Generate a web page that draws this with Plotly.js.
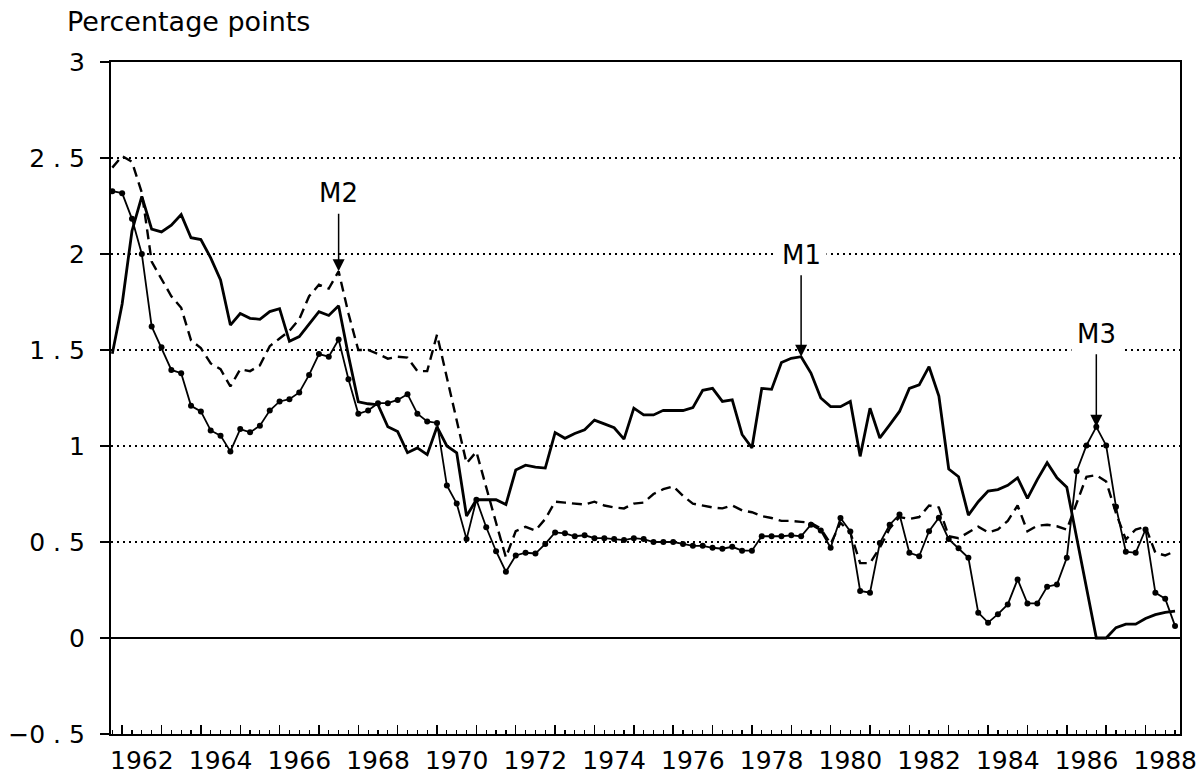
<!DOCTYPE html>
<html>
<head>
<meta charset="utf-8">
<script src="https://cdn.plot.ly/plotly-3.0.1.min.js"></script>
<style>
  html, body { margin: 0; padding: 0; background: #fff; }
  #chart { width: 1198px; height: 777px; }
</style>
</head>
<body>
<div id="chart"></div>
<script>
// Quarterly observations, 1961 Q4 to 1988 Q4 (plotted at the start of each quarter)
const firstQuarter = 1961.75;

const m1 = [1.48, 1.74, 2.12, 2.30, 2.13, 2.115, 2.15, 2.205, 2.085, 2.075,
  1.98, 1.865, 1.63, 1.69, 1.665, 1.66, 1.70, 1.715, 1.545, 1.57,
  1.635, 1.70, 1.68, 1.73, 1.47, 1.23, 1.22, 1.215, 1.10, 1.075,
  0.965, 0.99, 0.955, 1.10, 1.00, 0.965, 0.635, 0.72, 0.72, 0.72,
  0.695, 0.875, 0.90, 0.89, 0.885, 1.07, 1.04, 1.065, 1.085, 1.135,
  1.115, 1.095, 1.036, 1.197, 1.162, 1.162, 1.186, 1.185, 1.185, 1.20,
  1.29, 1.30, 1.232, 1.24, 1.06, 0.99, 1.30, 1.295, 1.435, 1.457,
  1.465, 1.38, 1.25, 1.205, 1.205, 1.232, 0.946, 1.197, 1.042, 1.11,
  1.18, 1.30, 1.318, 1.413, 1.26, 0.88, 0.84, 0.64, 0.71, 0.765,
  0.773, 0.795, 0.834, 0.727, 0.825, 0.913, 0.834, 0.785, 0.52, 0.26,
  0.0, 0.0, 0.054, 0.072, 0.072, 0.102, 0.122, 0.134, 0.14];

const m2 = [2.45, 2.51, 2.48, 2.32, 1.96, 1.87, 1.78, 1.72, 1.55, 1.51,
  1.43, 1.40, 1.31, 1.40, 1.39, 1.42, 1.52, 1.56, 1.60, 1.66,
  1.78, 1.84, 1.82, 1.91, 1.69, 1.50, 1.50, 1.48, 1.455, 1.465,
  1.46, 1.39, 1.39, 1.58, 1.36, 1.13, 0.91, 0.97, 0.78, 0.60,
  0.42, 0.557, 0.579, 0.56, 0.62, 0.71, 0.705, 0.70, 0.695, 0.71,
  0.69, 0.68, 0.675, 0.70, 0.705, 0.75, 0.775, 0.79, 0.74, 0.70,
  0.69, 0.68, 0.675, 0.69, 0.665, 0.655, 0.635, 0.625, 0.61, 0.61,
  0.605, 0.60, 0.57, 0.49, 0.60, 0.55, 0.39, 0.39, 0.47, 0.57,
  0.63, 0.62, 0.63, 0.69, 0.68, 0.53, 0.52, 0.548, 0.58, 0.55,
  0.565, 0.61, 0.69, 0.556, 0.585, 0.59, 0.582, 0.565, 0.70, 0.84,
  0.848, 0.815, 0.65, 0.513, 0.565, 0.58, 0.444, 0.43, 0.452];

const m3 = [2.327, 2.317, 2.183, 2.00, 1.623, 1.514, 1.396, 1.379, 1.209, 1.18,
  1.081, 1.054, 0.972, 1.088, 1.071, 1.106, 1.185, 1.232, 1.244, 1.279,
  1.37, 1.479, 1.465, 1.555, 1.348, 1.168, 1.185, 1.223, 1.223, 1.24,
  1.27, 1.168, 1.128, 1.12, 0.794, 0.70, 0.515, 0.72, 0.577, 0.452,
  0.345, 0.43, 0.444, 0.44, 0.49, 0.55, 0.545, 0.53, 0.535, 0.52,
  0.52, 0.515, 0.51, 0.52, 0.515, 0.50, 0.50, 0.50, 0.49, 0.48,
  0.48, 0.47, 0.465, 0.475, 0.455, 0.455, 0.53, 0.53, 0.53, 0.535,
  0.53, 0.59, 0.56, 0.47, 0.625, 0.555, 0.245, 0.236, 0.495, 0.59,
  0.643, 0.444, 0.426, 0.556, 0.626, 0.515, 0.467, 0.418, 0.132, 0.08,
  0.124, 0.175, 0.305, 0.18, 0.18, 0.267, 0.279, 0.418, 0.868, 1.003,
  1.10, 1.003, 0.683, 0.449, 0.444, 0.565, 0.236, 0.205, 0.063];

const years = [1962, 1964, 1966, 1968, 1970, 1972, 1974, 1976, 1978, 1980, 1982, 1984, 1986, 1988];
const yTickVals = [-0.5, 0, 0.5, 1, 1.5, 2, 2.5, 3];
const yTickText = ["\u22120 . 5", "0", "0 . 5", "1", "1 . 5", "2", "2 . 5", "3"];

// Arrow labels: text, quarter date, series, vertical offset of the label
const callouts = [
  {text: "M2", date: 1967.5, series: "m2", offset: -78},
  {text: "M1", date: 1979.25, series: "m1", offset: -102},
  {text: "M3", date: 1986.75, series: "m3", offset: -93}
];

const dates = m1.map((_, i) => firstQuarter + 0.25 * i);
const seriesMap = {m1, m2, m3};

const FONT = "DejaVu Sans, Verdana, sans-serif";
const xRange = [1961.717, 1988.876];

const traces = [
  {x: dates, y: m2, type: "scatter", mode: "lines", name: "M2",
   line: {color: "#000", width: 2.4, dash: "10px,6px"}, hoverinfo: "skip"},
  {x: dates, y: m1, type: "scatter", mode: "lines", name: "M1",
   line: {color: "#000", width: 2.8}, hoverinfo: "skip"},
  {x: dates, y: m3, type: "scatter", mode: "lines+markers", name: "M3",
   line: {color: "#000", width: 1.8}, marker: {color: "#000", size: 6}, hoverinfo: "skip"},
  // invisible companion trace so the label axis is rendered
  {x: dates, y: m1, xaxis: "x2", type: "scatter", mode: "lines",
   line: {color: "rgba(0,0,0,0)", width: 0}, hoverinfo: "skip", showlegend: false}
];

const annotations = callouts.map(c => {
  const idx = dates.findIndex(d => Math.abs(d - c.date) < 1e-6);
  return {
    x: c.date, y: seriesMap[c.series][idx], xref: "x", yref: "y",
    text: c.text, showarrow: true, ax: 0, ay: c.offset,
    arrowhead: 2, arrowsize: 1.6, arrowwidth: 1.5, arrowcolor: "#000",
    standoff: 0, bgcolor: "#fff", borderpad: 5,
    font: {family: FONT, size: 26, color: "#000"}
  };
});
annotations.push({
  text: "Percentage points", xref: "paper", yref: "paper",
  x: -0.043, y: 1.06, xanchor: "left", yanchor: "middle", showarrow: false,
  font: {family: FONT, size: 27, color: "#000"}
});

const layout = {
  width: 1198, height: 777,
  margin: {l: 111, r: 18, t: 62, b: 43},
  paper_bgcolor: "#fff", plot_bgcolor: "#fff",
  showlegend: false,
  font: {family: FONT, color: "#000"},
  xaxis: {
    range: xRange, tickmode: "linear", tick0: 1962, dtick: 1,
    ticks: "inside", ticklen: 9, tickwidth: 1.4, tickcolor: "#000",
    showticklabels: false, showgrid: false, zeroline: false,
    showline: true, linecolor: "#000", linewidth: 2.2, mirror: true,
    minor: {tick0: 1961.75, dtick: 0.25, ticks: "inside", ticklen: 4, tickwidth: 1.2, tickcolor: "#000", showgrid: false}
  },
  xaxis2: {
    range: xRange, overlaying: "x", side: "bottom", anchor: "y",
    tickmode: "array", tickvals: years.map(y => y + 0.5), ticktext: years.map(String),
    ticks: "", showgrid: false, zeroline: false, showline: false,
    ticklabelstandoff: 9,
    tickfont: {family: FONT, size: 25, color: "#000"}
  },
  yaxis: {
    range: [-0.5, 3], tickmode: "array", tickvals: yTickVals, ticktext: yTickText,
    ticks: "outside", ticklen: 9, tickwidth: 1.4, tickcolor: "#000",
    ticklabelstandoff: 10,
    tickfont: {family: FONT, size: 25, color: "#000"},
    showgrid: true, gridcolor: "#000", gridwidth: 1.6, griddash: "2px,4px",
    zeroline: true, zerolinecolor: "#000", zerolinewidth: 2,
    showline: true, linecolor: "#000", linewidth: 2.2, mirror: true
  },
  annotations: annotations
};

Plotly.newPlot("chart", traces, layout, {displayModeBar: false, staticPlot: true});
</script>
</body>
</html>
